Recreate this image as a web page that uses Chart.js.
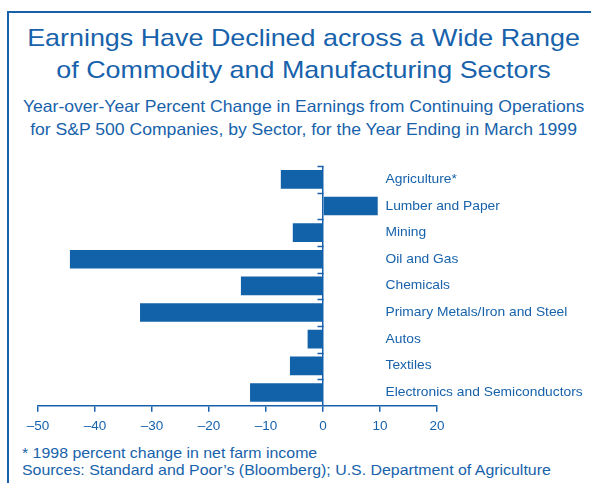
<!DOCTYPE html>
<html>
<head>
<meta charset="utf-8">
<script src="https://cdn.jsdelivr.net/npm/chart.js@4/dist/chart.umd.min.js"></script>
<style>
  body { margin: 0; background: #fff; width: 591px; height: 483px; overflow: hidden; position: relative;
         font-family: "Liberation Sans", Arial, sans-serif; color: #1762ab; }
  #frame { position: absolute; left: 7px; top: 11px; width: 700px; height: 600px;
           border-left: 2px solid #1762ab; border-top: 2px solid #1762ab; }
  .title { position: absolute; left: 7px; width: 593px; text-align: center; white-space: nowrap;
           transform-origin: 296px 0; }
  #t1 { top: 22px; font-size: 24px; line-height: 32px; transform: scaleX(1.12); }
  #t2 { top: 95px; font-size: 16.5px; line-height: 23px; transform: scaleX(1.065); transform-origin: 295.5px 0; }
  #notes { position: absolute; left: 22px; top: 444px; font-size: 15px; line-height: 17px; white-space: nowrap;
           transform: scaleX(1.06); transform-origin: 0 0; }
  #chartContainer { position: absolute; left: 0; top: 150px; }
</style>
</head>
<body>
<div id="frame"></div>
<div class="title" id="t1">Earnings Have Declined across a Wide Range<br>of Commodity and Manufacturing Sectors</div>
<div class="title" id="t2">Year-over-Year Percent Change in Earnings from Continuing Operations<br>for S&amp;P 500 Companies, by Sector, for the Year Ending in March 1999</div>
<canvas id="chartContainer" width="591" height="290"></canvas>
<div id="notes">* 1998 percent change in net farm income<br>Sources: Standard and Poor’s (Bloomberg); U.S. Department of Agriculture</div>
<script>
var sectors = ["Agriculture*", "Lumber and Paper", "Mining", "Oil and Gas", "Chemicals",
               "Primary Metals/Iron and Steel", "Autos", "Textiles", "Electronics and Semiconductors"];
var changes = [-7.4, 9.6, -5.3, -44.4, -14.4, -32.1, -2.7, -5.8, -12.8];
var xMin = -50, xMax = 20, xStep = 10;

var blue = "#1762ab";
var barBlue = "#1162a9";

// labels to the right of the zero line + small ticks between sectors
var sectorLabels = {
    id: 'sectorLabels',
    afterDatasetsDraw: function(chart) {
        var ctx = chart.ctx, x = chart.scales.x, y = chart.scales.y;
        var zero = Math.round(x.getPixelForValue(0)) + 0.5;
        ctx.save();
        ctx.strokeStyle = blue;
        ctx.lineWidth = 1.5;
        for (var i = 0; i < sectors.length; i++) {
            var yy = Math.round(y.getPixelForValue(i - 0.5)) + 0.5;
            ctx.beginPath();
            ctx.moveTo(zero - 6, yy);
            ctx.lineTo(zero, yy);
            ctx.stroke();
        }
        ctx.fillStyle = blue;
        ctx.font = '13px "Liberation Sans", Arial, sans-serif';
        ctx.textBaseline = 'middle';
        ctx.textAlign = 'left';
        for (var j = 0; j < sectors.length; j++) {
            ctx.save();
            ctx.translate(zero + 62, y.getPixelForValue(j));
            ctx.scale(1.062, 1);
            ctx.fillText(sectors[j], 0, 0);
            ctx.restore();
        }
        ctx.restore();
    }
};

new Chart('chartContainer', {
    type: 'bar',
    data: {
        labels: sectors,
        datasets: [{
            data: changes,
            backgroundColor: barBlue,
            borderWidth: 0,
            barPercentage: 0.7,
            categoryPercentage: 1.0
        }]
    },
    options: {
        indexAxis: 'y',
        responsive: false,
        animation: false,
        layout: { padding: { left: 38, right: 154, top: 16, bottom: 0 } },
        plugins: { legend: { display: false }, tooltip: { enabled: false } },
        scales: {
            x: {
                min: xMin, max: xMax,
                border: { display: true, color: blue, width: 1.5 },
                grid: {
                    color: function(c) { return c.tick && c.tick.value === 0 ? blue : 'rgba(0,0,0,0)'; },
                    lineWidth: 1.5,
                    tickColor: blue,
                    tickLength: 6
                },
                ticks: {
                    stepSize: xStep,
                    padding: 6,
                    color: blue,
                    font: { family: '"Liberation Sans", Arial, sans-serif', size: 13.5 },
                    callback: function(v) { return v < 0 ? '\u2013' + Math.abs(v) : '' + v; }
                }
            },
            y: { display: false }
        }
    },
    plugins: [sectorLabels]
});
</script>
</body>
</html>
